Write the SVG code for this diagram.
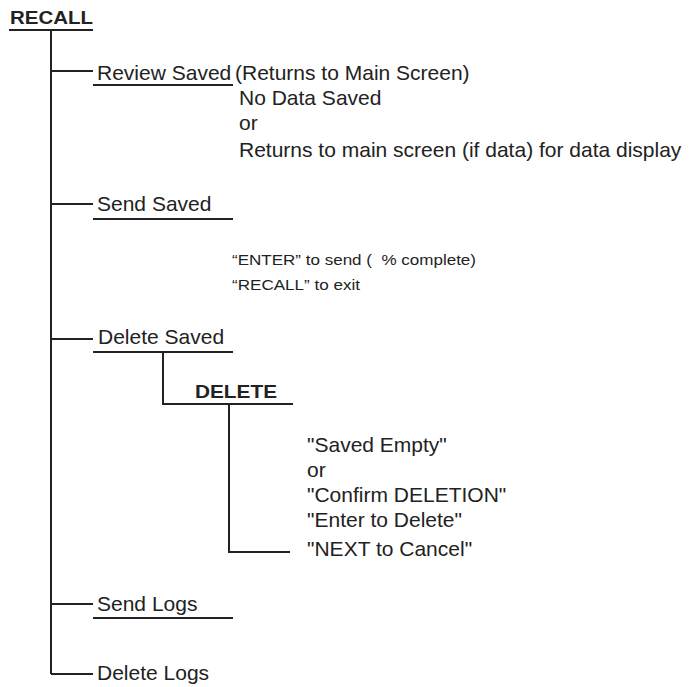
<svg xmlns="http://www.w3.org/2000/svg" width="691" height="687" viewBox="0 0 691 687">
<style>
.t{font-family:"Liberation Sans",Arial,sans-serif;font-size:21px;fill:#222}
.b{font-family:"Liberation Sans",Arial,sans-serif;font-size:18px;font-weight:bold;fill:#222}
.s{font-family:"Liberation Sans",Arial,sans-serif;font-size:15px;fill:#222}
.l{stroke:#222;stroke-width:2;fill:none}
</style>
<rect width="691" height="687" fill="#fff"/>
<g id="connectors">
<path class="l" d="M9,30H93M51,30V674M51,71H93M93,85H233M51,204H93M93,219H233M51,339H93M93,352H233M163,352V404H293M229,404V552H290M51,604H93M93,618H233M51,674H93"/>
</g>
<g id="recall"><text class="b" x="10" y="24" textLength="83" lengthAdjust="spacingAndGlyphs">RECALL</text></g>
<g id="review-saved">
<text class="t" x="97" y="80">Review Saved</text>
<text class="t" x="235" y="80">(Returns to Main Screen)</text>
<text class="t" x="239" y="105">No Data Saved</text>
<text class="t" x="239" y="130">or</text>
<text class="t" x="239" y="157">Returns to main screen (if data) for data display</text>
</g>
<g id="send-saved">
<text class="t" x="97" y="211">Send Saved</text>
<text class="s" x="232" y="265" textLength="244" lengthAdjust="spacingAndGlyphs">“ENTER” to send (&#160; % complete)</text>
<text class="s" x="232" y="290" textLength="128" lengthAdjust="spacingAndGlyphs">“RECALL” to exit</text>
</g>
<g id="delete-saved"><text class="t" x="98" y="344">Delete Saved</text></g>
<g id="delete">
<text class="b" x="195" y="398" textLength="82" lengthAdjust="spacingAndGlyphs">DELETE</text>
<text class="t" x="307" y="452">"Saved Empty"</text>
<text class="t" x="307" y="477">or</text>
<text class="t" x="307" y="502">"Confirm DELETION"</text>
<text class="t" x="307" y="527">"Enter to Delete"</text>
<text class="t" x="307" y="556">"NEXT to Cancel"</text>
</g>
<g id="send-logs"><text class="t" x="97" y="611">Send Logs</text></g>
<g id="delete-logs"><text class="t" x="97" y="680">Delete Logs</text></g>
</svg>
